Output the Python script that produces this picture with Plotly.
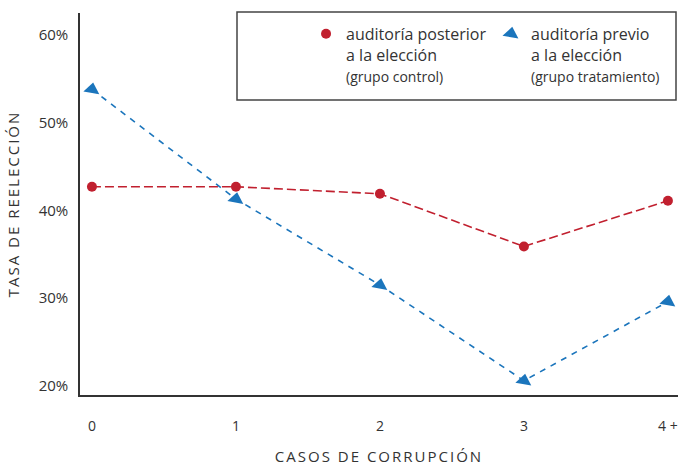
import plotly.graph_objects as go

categories = ["0", "1", "2", "3", "4 +"]
x_pos = [0, 1, 2, 3, 4]
control = [42.7, 42.7, 41.9, 35.9, 41.1]      # auditoría posterior (grupo control)
treatment = [53.8, 41.3, 31.5, 20.6, 29.6]    # auditoría previo (grupo tratamiento)
y_ticks = [20, 30, 40, 50, 60]
y_tick_labels = ["20%", "30%", "40%", "50%", "60%"]

RED = "#C1202F"
BLUE = "#1B75BC"
FONT = "Open Sans"
SP = "<span style='letter-spacing:2px'>{}</span>"

fig = go.Figure()
fig.add_trace(go.Scatter(
    x=x_pos, y=control, mode="lines+markers", showlegend=False,
    line=dict(color=RED, width=1.6, dash="9px,4px"),
    marker=dict(symbol="circle", size=10, color=RED),
))
fig.add_trace(go.Scatter(
    x=x_pos, y=treatment, mode="lines+markers", showlegend=False,
    line=dict(color=BLUE, width=1.6, dash="6px,6px"),
    marker=dict(symbol="triangle-up", size=14, color=BLUE, angle=10),
))
# legend-only entries (marker only, as in the reference key)
fig.add_trace(go.Scatter(
    x=[None], y=[None], mode="markers",
    name="auditoría posterior<br>a la elección<br><span style='font-size:14px'>(grupo control)</span>",
    marker=dict(symbol="circle", size=10, color=RED),
))
fig.add_trace(go.Scatter(
    x=[None], y=[None], mode="markers",
    name="auditoría previo<br>a la elección<br><span style='font-size:14px'>(grupo tratamiento)</span>",
    marker=dict(symbol="triangle-up", size=14, color=BLUE, angle=10),
))

fig.update_layout(
    width=685, height=466,
    margin=dict(l=80, r=7, t=13, b=71),
    paper_bgcolor="white", plot_bgcolor="white",
    font=dict(family=FONT, size=14, color="#333333"),
    showlegend=True,
    legend=dict(
        orientation="h", x=0.378, y=0.99, xanchor="left", yanchor="top",
        font=dict(size=16, color="#333333"), valign="top",
        bgcolor="rgba(0,0,0,0)", borderwidth=0, entrywidth=140,
        itemclick=False, itemdoubleclick=False,
    ),
    xaxis=dict(
        range=[-0.083, 4.07], tickvals=x_pos, ticktext=categories, automargin=False,
        showgrid=False, zeroline=False, showline=True, linecolor="#333333", linewidth=1.5,
        ticks="", ticklabelstandoff=17, tickfont=dict(size=14),
        title=dict(text=SP.format("CASOS DE CORRUPCIÓN"), font=dict(size=15), standoff=24),
    ),
    yaxis=dict(
        range=[18.97, 62.5], tickvals=y_ticks, ticktext=y_tick_labels, automargin=False,
        showgrid=False, zeroline=False, showline=True, linecolor="#333333", linewidth=1.5,
        ticks="", ticklabelstandoff=7, tickfont=dict(size=15),
        title=dict(text=SP.format("TASA DE REELECCIÓN"), font=dict(size=15), standoff=15),
    ),
    shapes=[dict(
        type="rect", xref="paper", yref="paper",
        x0=(237 - 80) / 598, x1=(676 - 80) / 598,
        y0=(395 - 100) / 382, y1=(395 - 12) / 382,
        line=dict(color="#444444", width=1.5), fillcolor="rgba(0,0,0,0)", layer="above",
    )],
)

fig.write_html(
    "out.html",
    config={"displayModeBar": False},
    post_script="document.body.style.margin='0';document.body.style.overflow='hidden';",
)
